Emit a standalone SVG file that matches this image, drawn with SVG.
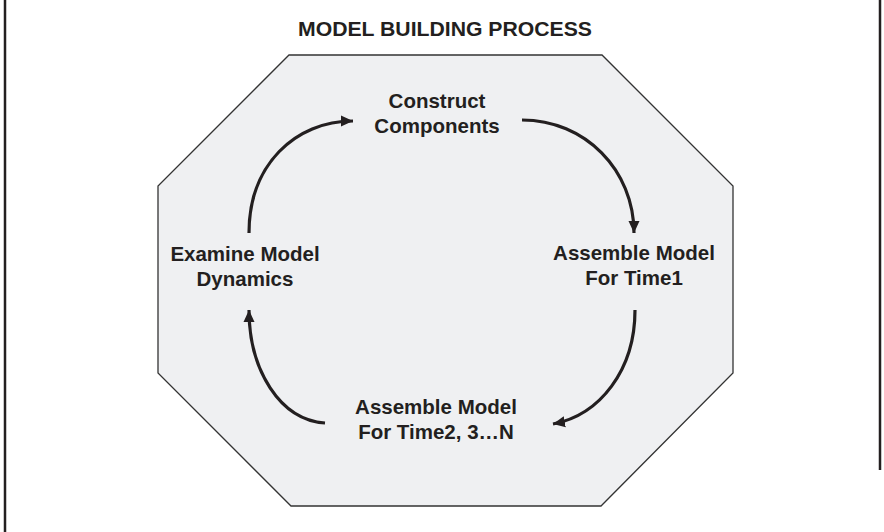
<svg xmlns="http://www.w3.org/2000/svg" width="884" height="532" viewBox="0 0 884 532">
<style>
.lbl{font-family:"Liberation Sans",Arial,sans-serif;font-weight:bold;font-size:20.5px;fill:#231f20;text-anchor:middle}
.title{font-family:"Liberation Sans",Arial,sans-serif;font-weight:bold;font-size:20.5px;fill:#231f20;text-anchor:middle}
.conn{fill:none;stroke:#231f20;stroke-width:3.2;marker-end:url(#ah)}
.frame{stroke:#231f20;stroke-width:2.5}
</style>
<defs>
<marker id="ah" markerUnits="userSpaceOnUse" markerWidth="14" markerHeight="14" viewBox="0 0 14 14" refX="12" refY="7" orient="auto">
<path d="M0,1.5 L12,7 L0,12.5 Z" fill="#231f20"/>
</marker>
</defs>
<rect width="884" height="532" fill="#ffffff"/>
<line class="frame" x1="5" y1="0" x2="5" y2="532"/>
<line class="frame" x1="880" y1="0" x2="880" y2="470"/>
<text class="title" x="445" y="36" textLength="294" lengthAdjust="spacingAndGlyphs">MODEL BUILDING PROCESS</text>
<g id="octagon">
<polygon points="289,55 602,55 733,186 733,373 601,506 291,506 158,373 158,186" fill="#eff0f2" stroke="#333333" stroke-width="1.3"/>
</g>
<g id="construct">
<text class="lbl" x="437" y="108">Construct</text>
<text class="lbl" x="437" y="133">Components</text>
</g>
<g id="assemble1">
<text class="lbl" x="634" y="260">Assemble Model</text>
<text class="lbl" x="634" y="285">For Time1</text>
</g>
<g id="assembleN">
<text class="lbl" x="436" y="414">Assemble Model</text>
<text class="lbl" x="436" y="439">For Time2, 3…N</text>
</g>
<g id="examine">
<text class="lbl" x="245" y="261">Examine Model</text>
<text class="lbl" x="245" y="286">Dynamics</text>
</g>
<g id="connectors">
<path class="conn" d="M249,233 C249,165 295,121 353,121"/>
<path class="conn" d="M522,120 C585,120 634,170 634,233"/>
<path class="conn" d="M635,310 C635,370 600,415 553,424"/>
<path class="conn" d="M325,423 C280,420 249,370 249,310"/>
</g>
</svg>
